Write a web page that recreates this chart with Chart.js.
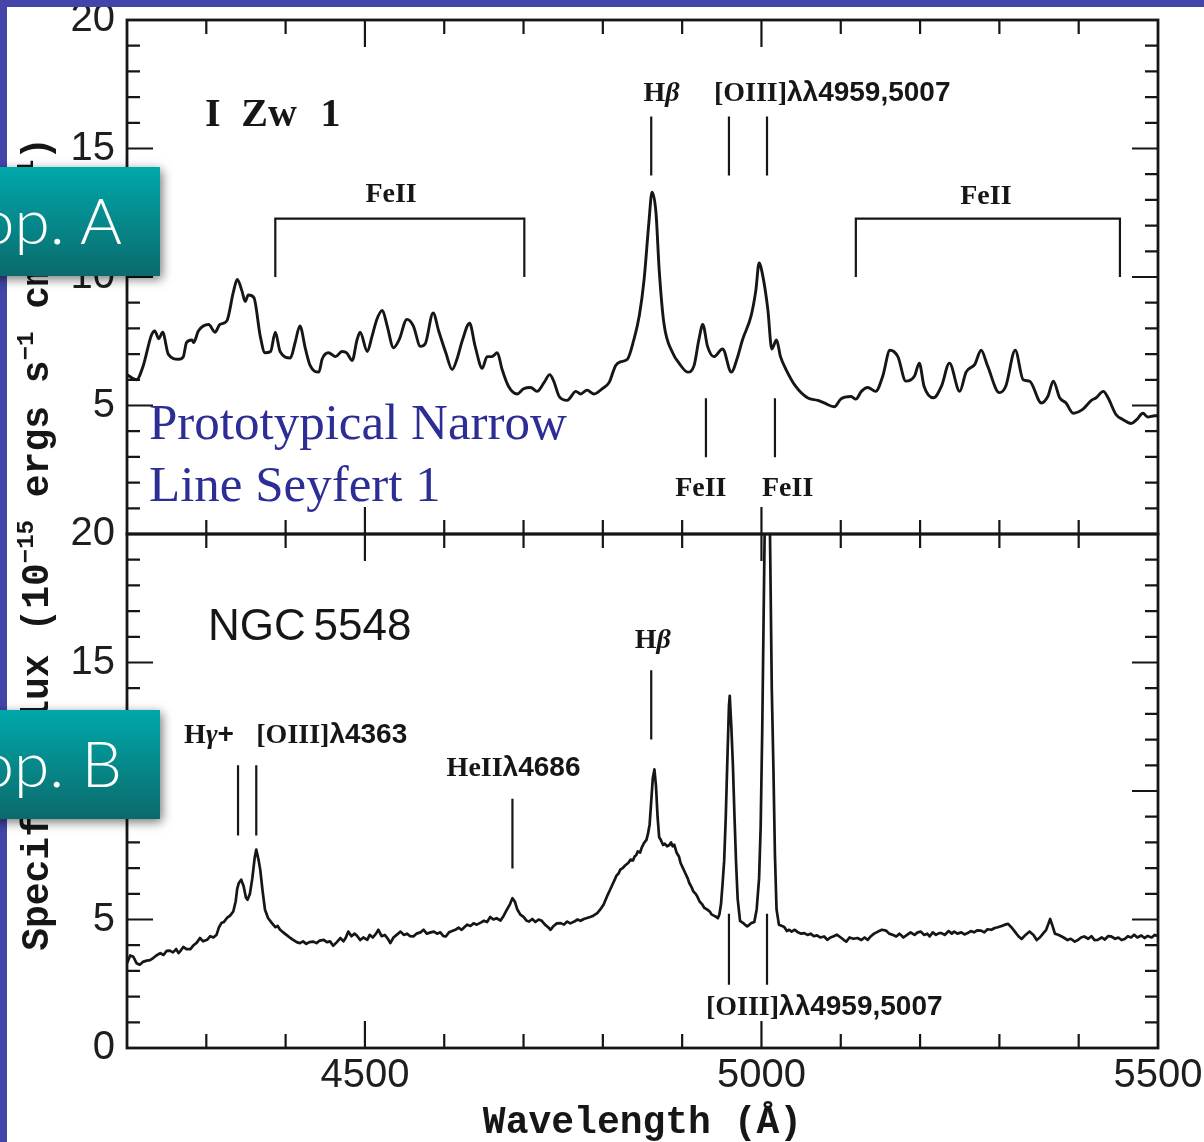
<!DOCTYPE html>
<html>
<head>
<meta charset="utf-8">
<title>I Zw 1 and NGC 5548 spectra</title>
<script src="https://cdn.jsdelivr.net/npm/chart.js@4.4.1/dist/chart.umd.min.js"></script>
<style>
  html, body { margin: 0; padding: 0; background: #fff; }
  #wrap { position: relative; width: 1204px; height: 1142px; overflow: hidden; background: #fff; }
  #spec { position: absolute; left: 0; top: 0; }
  .edge { position: absolute; background: #4346a8; }
  .pop {
    position: absolute; left: -20px; width: 180px; height: 109px;
    background: linear-gradient(#00a8ab, #0b6a6b);
    box-shadow: 2px 3px 10px rgba(0, 0, 0, 0.55);
    overflow: hidden;
  }
  .pop span {
    position: absolute; right: 38px; top: 22px;
    font-family: Lato, "Open Sans", sans-serif; font-weight: 300;
    font-size: 64px; line-height: 62px; color: #fff; white-space: nowrap;
  }
  .note {
    position: absolute; left: 149px; top: 391px;
    font-family: "Liberation Serif", serif; font-size: 51px; line-height: 62px;
    color: #2d2e95; white-space: nowrap;
  }
</style>
</head>
<body>
<div id="wrap">
  <canvas id="spec" width="1204" height="1142"></canvas>
  <div class="note">Prototypical Narrow<br>Line Seyfert 1</div>
  <div class="edge" style="left:0;top:0;width:1204px;height:7px"></div>
  <div class="edge" style="left:0;top:0;width:7px;height:1142px"></div>
  <div class="pop" style="top:167px"><span>Pop. A</span></div>
  <div class="pop" style="top:710px"><span>Pop. B</span></div>
</div>
<script>
// I Zw 1 (top panel), wavelength in Angstrom, flux in 1e-15 erg/s/cm2/A
const izw1Wave = [4200, 4212, 4220, 4231, 4235, 4240, 4245, 4252, 4265, 4271, 4275, 4282, 4284, 4290, 4303, 4311,
  4317, 4326, 4334, 4339, 4345, 4349, 4353, 4360, 4368, 4374, 4381, 4387, 4393, 4406, 4412, 4418, 4425, 4431,
  4442, 4446, 4454, 4463, 4471, 4477, 4484, 4490, 4494, 4503, 4509, 4515, 4522, 4528, 4536, 4543, 4553, 4561,
  4570, 4576, 4586, 4593, 4602, 4610, 4616, 4623, 4632, 4639, 4648, 4654, 4660, 4667, 4673, 4681, 4692, 4700,
  4709, 4717, 4726, 4733, 4738, 4745, 4755, 4766, 4772, 4780, 4789, 4799, 4808, 4816, 4822, 4831, 4839, 4846,
  4852, 4858, 4862, 4867, 4871, 4877, 4888, 4896, 4907, 4915, 4921, 4926, 4932, 4940, 4951, 4962, 4970, 4976,
  4987, 4993, 4997, 5001, 5008, 5013, 5019, 5024, 5031, 5043, 5058, 5071, 5079, 5092, 5100, 5113, 5119, 5126,
  5134, 5144, 5153, 5162, 5172, 5182, 5193, 5199, 5205, 5217, 5227, 5237, 5250, 5258, 5269, 5277, 5285, 5300,
  5308, 5320, 5330, 5338, 5353, 5361, 5368, 5376, 5384, 5393, 5405, 5416, 5422, 5431, 5437, 5447, 5456, 5466,
  5473, 5481, 5487, 5496, 5500];
const izw1Flux = [6.2, 6.0, 6.5, 7.75, 7.9, 7.6, 7.85, 7.0, 6.8, 6.9, 7.45, 7.55, 7.45, 7.9, 8.15, 7.85,
  8.15, 8.3, 9.4, 9.9, 9.45, 9.05, 9.3, 9.2, 7.7, 7.05, 7.1, 7.85, 7.1, 6.85, 7.45, 8.1, 7.2, 6.55,
  6.3, 6.8, 7.05, 6.9, 7.1, 7.05, 6.75, 7.55, 7.85, 7.1, 7.7, 8.35, 8.7, 8.1, 7.25, 7.55, 8.35, 8.1,
  7.3, 7.4, 8.6, 7.9, 7.05, 6.4, 6.8, 7.55, 8.2, 7.3, 6.45, 6.9, 6.9, 7.05, 6.4, 5.75, 5.45, 5.65,
  5.7, 5.55, 5.9, 6.2, 5.95, 5.35, 5.2, 5.55, 5.45, 5.6, 5.45, 5.65, 5.9, 6.55, 6.7, 6.8, 7.55, 8.5,
  9.9, 12.1, 13.3, 12.5, 10.3, 8.2, 7.05, 6.65, 6.3, 6.55, 7.55, 8.15, 7.3, 6.9, 7.2, 6.3, 6.9, 7.55,
  8.5, 9.5, 10.55, 10.15, 8.75, 7.2, 7.55, 6.9, 6.4, 5.75, 5.3, 5.2, 5.1, 4.95, 5.25, 5.35, 5.25, 5.55,
  5.7, 5.55, 6.15, 7.15, 6.9, 5.95, 6.15, 6.65, 5.75, 5.3, 5.75, 6.65, 5.55, 6.3, 6.6, 7.15, 6.55, 5.5,
  5.75, 7.15, 6.0, 5.95, 5.1, 5.35, 5.95, 5.3, 5.1, 4.7, 4.85, 5.2, 5.3, 5.55, 5.3, 4.65, 4.45, 4.3,
  4.45, 4.7, 4.55, 4.6, 4.6];

// NGC 5548 (bottom panel); the [OIII]5007 peak runs off the top of the panel
const ngcWave = [4200, 4204, 4208, 4212, 4216, 4220, 4225, 4229, 4233, 4237, 4242, 4246, 4250, 4254, 4258, 4262,
  4265, 4268, 4271, 4275, 4280, 4284, 4288, 4292, 4296, 4301, 4305, 4309, 4313, 4316, 4319, 4322, 4326, 4330,
  4334, 4337, 4339, 4341, 4344, 4347, 4350, 4352, 4355, 4358, 4361, 4363, 4366, 4368, 4371, 4374, 4378, 4383,
  4387, 4390, 4393, 4397, 4401, 4406, 4410, 4414, 4418, 4422, 4426, 4430, 4435, 4439, 4443, 4448, 4452, 4456,
  4460, 4464, 4469, 4473, 4476, 4479, 4483, 4487, 4490, 4494, 4498, 4503, 4506, 4510, 4514, 4517, 4521, 4525,
  4529, 4532, 4536, 4540, 4545, 4549, 4553, 4557, 4561, 4565, 4570, 4574, 4578, 4583, 4587, 4591, 4595, 4599,
  4602, 4606, 4610, 4614, 4618, 4622, 4626, 4629, 4633, 4637, 4641, 4646, 4650, 4654, 4658, 4662, 4666, 4671,
  4675, 4679, 4683, 4686, 4689, 4692, 4696, 4700, 4704, 4707, 4711, 4715, 4719, 4723, 4727, 4731, 4734, 4738,
  4742, 4747, 4751, 4755, 4759, 4764, 4768, 4772, 4776, 4780, 4784, 4788, 4793, 4797, 4801, 4806, 4809, 4812,
  4815, 4817, 4820, 4822, 4825, 4828, 4832, 4835, 4838, 4840, 4842, 4844, 4847, 4849, 4852, 4855, 4857, 4859,
  4861, 4863, 4865, 4867, 4869, 4871, 4873, 4876, 4878, 4881, 4884, 4886, 4888, 4890, 4893, 4896, 4898, 4901,
  4904, 4907, 4909, 4912, 4914, 4917, 4919, 4922, 4925, 4928, 4932, 4935, 4937, 4940, 4942, 4945, 4947, 4949,
  4951, 4953, 4955, 4957, 4959, 4960, 4962, 4964, 4966, 4968, 4970, 4973, 4977, 4980, 4982, 4985, 4987, 4991,
  4994, 4997, 4999, 5001, 5004, 5007, 5010, 5013, 5015, 5017, 5019, 5022, 5026, 5029, 5032, 5035, 5038, 5042,
  5046, 5050, 5054, 5058, 5062, 5066, 5070, 5074, 5079, 5083, 5087, 5091, 5095, 5100, 5104, 5107, 5111, 5116,
  5121, 5126, 5130, 5134, 5138, 5142, 5147, 5152, 5157, 5161, 5166, 5170, 5174, 5179, 5184, 5188, 5193, 5197,
  5201, 5205, 5209, 5212, 5216, 5220, 5224, 5227, 5231, 5236, 5240, 5243, 5247, 5252, 5256, 5260, 5264, 5268,
  5272, 5277, 5281, 5285, 5290, 5294, 5298, 5303, 5307, 5311, 5315, 5319, 5324, 5328, 5333, 5338, 5343, 5347,
  5351, 5355, 5359, 5362, 5364, 5367, 5370, 5374, 5378, 5382, 5386, 5390, 5395, 5399, 5403, 5407, 5412, 5416,
  5420, 5424, 5429, 5433, 5437, 5441, 5446, 5450, 5454, 5458, 5462, 5466, 5470, 5474, 5479, 5483, 5487, 5492,
  5496, 5500];
const ngcFlux = [3.3, 3.6, 3.55, 3.3, 3.24, 3.35, 3.4, 3.42, 3.5, 3.6, 3.69, 3.62, 3.78, 3.79, 3.72, 3.85,
  3.69, 3.8, 3.93, 3.85, 3.85, 4.0, 4.1, 4.28, 4.15, 4.21, 4.35, 4.3, 4.41, 4.7, 4.86, 4.9, 5.06, 5.15,
  5.31, 5.7, 6.2, 6.42, 6.55, 6.3, 5.85, 5.77, 6.0, 6.6, 7.4, 7.72, 7.3, 6.94, 6.1, 5.38, 5.05, 4.85,
  4.7, 4.75, 4.6, 4.5, 4.4, 4.28, 4.2, 4.12, 4.08, 4.15, 4.05, 4.12, 4.14, 4.08, 4.18, 4.21, 4.12, 4.15,
  3.98, 4.1, 4.28, 4.15, 4.3, 4.53, 4.35, 4.45, 4.37, 4.2, 4.3, 4.21, 4.4, 4.3, 4.45, 4.6, 4.35, 4.4,
  4.25, 4.08, 4.3, 4.4, 4.53, 4.4, 4.45, 4.35, 4.34, 4.45, 4.5, 4.6, 4.45, 4.5, 4.53, 4.45, 4.5, 4.35,
  4.34, 4.5, 4.55, 4.6, 4.68, 4.6, 4.72, 4.8, 4.75, 4.85, 4.8, 4.88, 4.95, 4.9, 5.1, 5.0, 5.05, 4.96,
  5.15, 5.38, 5.6, 5.83, 5.7, 5.4, 5.19, 5.1, 4.95, 4.92, 5.02, 4.9, 5.0, 4.95, 4.8, 4.7, 4.6, 4.75,
  4.85, 4.86, 4.8, 4.92, 4.85, 4.92, 5.0, 4.95, 5.02, 5.06, 5.1, 5.15, 5.25, 5.4, 5.58, 5.95, 6.15, 6.35,
  6.55, 6.7, 6.8, 6.94, 7.0, 7.1, 7.2, 7.33, 7.3, 7.45, 7.5, 7.65, 7.6, 7.8, 7.98, 8.1, 8.35, 8.7,
  9.6, 10.5, 10.84, 10.2, 9.0, 8.2, 8.1, 7.9, 7.95, 7.85, 7.9, 8.0, 7.85, 7.91, 7.6, 7.45, 7.2, 7.0,
  6.8, 6.6, 6.42, 6.25, 6.1, 6.0, 5.9, 5.7, 5.6, 5.45, 5.38, 5.3, 5.2, 5.15, 5.12, 5.05, 5.2, 5.6,
  6.4, 7.3, 9.0, 11.2, 13.3, 13.7, 12.5, 11.0, 9.0, 7.2, 5.8, 4.95, 4.86, 4.78, 4.73, 4.8, 4.86, 4.9,
  5.4, 6.6, 8.6, 12.4, 20, 30, 22, 14, 11, 7.5, 5.4, 4.8, 4.75, 4.7, 4.55, 4.6, 4.53, 4.6,
  4.5, 4.45, 4.47, 4.4, 4.45, 4.35, 4.38, 4.3, 4.34, 4.21, 4.3, 4.35, 4.41, 4.3, 4.2, 4.14, 4.3, 4.25,
  4.28, 4.2, 4.3, 4.21, 4.35, 4.45, 4.53, 4.6, 4.57, 4.45, 4.4, 4.34, 4.45, 4.3, 4.41, 4.5, 4.4, 4.5,
  4.53, 4.4, 4.45, 4.34, 4.5, 4.4, 4.47, 4.47, 4.4, 4.55, 4.45, 4.53, 4.45, 4.5, 4.42, 4.47, 4.55, 4.5,
  4.58, 4.57, 4.5, 4.62, 4.6, 4.67, 4.7, 4.75, 4.8, 4.83, 4.7, 4.55, 4.35, 4.24, 4.4, 4.53, 4.4, 4.2,
  4.3, 4.45, 4.6, 4.85, 5.02, 4.75, 4.45, 4.41, 4.35, 4.28, 4.2, 4.25, 4.14, 4.2, 4.3, 4.34, 4.25, 4.35,
  4.2, 4.21, 4.3, 4.22, 4.35, 4.34, 4.25, 4.3, 4.2, 4.24, 4.35, 4.3, 4.41, 4.3, 4.38, 4.28, 4.36, 4.3,
  4.4, 4.35];

const xTickValues = [4500, 5000, 5500];
const topTickValues = [5, 10, 15, 20];
const bottomTickValues = [0, 5, 10, 15, 20];

const ink = '#161616';
const serifB = 'bold 28px "Liberation Serif"';
const serifBI = 'italic bold 28px "Liberation Serif"';
const sansB = 'bold 28px "Liberation Sans"';
const mono = 'bold 38px "Liberation Mono"';
const monoSup = 'bold 24px "Liberation Mono"';

// line identifications: [wavelength, flux from, flux to]
const topMarks = [[4861, 13.95, 16.25], [4959, 13.95, 16.25], [5007, 13.95, 16.25], [4930, 2.99, 5.28], [5017, 2.99, 5.28]];
const topBrackets = [[4387, 4701], [5119, 5452]];
const bottomMarks = [[4340, 8.27, 11.0], [4363, 8.27, 11.0], [4686, 6.98, 9.7], [4861, 12.0, 14.7], [4959, 2.46, 5.22], [5007, 2.46, 5.22]];

function drawSegs(ctx, segs, x, y, align) {
  let w = 0;
  segs.forEach(s => { ctx.font = s[1]; w += ctx.measureText(s[0]).width; });
  let cx = align === 'center' ? x - w / 2 : (align === 'right' ? x - w : x);
  ctx.textAlign = 'left';
  ctx.textBaseline = 'alphabetic';
  segs.forEach(s => {
    ctx.font = s[1];
    ctx.fillText(s[0], cx, y + (s[2] || 0));
    cx += ctx.measureText(s[0]).width;
  });
}

const panelPlugin = {
  id: 'panels',
  beforeDatasetDraw(chart, args) {
    const ys = chart.scales[args.meta.yAxisID];
    const ca = chart.chartArea;
    chart.ctx.save();
    chart.ctx.beginPath();
    chart.ctx.rect(ca.left, ys.top, ca.right - ca.left, ys.bottom - ys.top);
    chart.ctx.clip();
  },
  afterDatasetDraw(chart) {
    chart.ctx.restore();
  },
  afterDraw(chart) {
    const ctx = chart.ctx;
    const xs = chart.scales.x;
    const yt = chart.scales.yTop;
    const yb = chart.scales.yBot;
    const L = xs.left, R = xs.right;
    ctx.save();
    ctx.strokeStyle = ink;
    ctx.fillStyle = ink;
    ctx.lineCap = 'butt';

    // frames and inward ticks on all sides of both panels
    [yt, yb].forEach(ys => {
      ctx.lineWidth = 2.8;
      ctx.strokeRect(L, ys.top, R - L, ys.bottom - ys.top);
      ctx.lineWidth = 2.2;
      ctx.beginPath();
      for (let v = 1; v < 20; v++) {
        const y = ys.getPixelForValue(v);
        const len = v % 5 === 0 ? 26 : 13;
        ctx.moveTo(L, y); ctx.lineTo(L + len, y);
        ctx.moveTo(R, y); ctx.lineTo(R - len, y);
      }
      for (let w = 4300; w < 5500; w += 100) {
        const x = xs.getPixelForValue(w);
        const len = w % 500 === 0 ? 27 : 14;
        ctx.moveTo(x, ys.top); ctx.lineTo(x, ys.top + len);
        ctx.moveTo(x, ys.bottom); ctx.lineTo(x, ys.bottom - len);
      }
      ctx.stroke();
    });

    // line marks
    ctx.lineWidth = 2.2;
    ctx.beginPath();
    topMarks.forEach(m => {
      const x = xs.getPixelForValue(m[0]);
      ctx.moveTo(x, yt.getPixelForValue(m[1])); ctx.lineTo(x, yt.getPixelForValue(m[2]));
    });
    bottomMarks.forEach(m => {
      const x = xs.getPixelForValue(m[0]);
      ctx.moveTo(x, yb.getPixelForValue(m[1])); ctx.lineTo(x, yb.getPixelForValue(m[2]));
    });
    topBrackets.forEach(b => {
      const x0 = xs.getPixelForValue(b[0]), x1 = xs.getPixelForValue(b[1]);
      const yh = yt.getPixelForValue(12.27), yl = yt.getPixelForValue(10.0);
      ctx.moveTo(x0, yl); ctx.lineTo(x0, yh); ctx.lineTo(x1, yh); ctx.lineTo(x1, yl);
    });
    ctx.stroke();

    // labels, top panel
    const px = w => xs.getPixelForValue(w);
    drawSegs(ctx, [['I', 'bold 40px "Liberation Serif"']], px(4298.5), yt.getPixelForValue(15.88), 'left');
    drawSegs(ctx, [['Zw', 'bold 40px "Liberation Serif"']], px(4344), yt.getPixelForValue(15.88), 'left');
    drawSegs(ctx, [['1', 'bold 40px "Liberation Serif"']], px(4444), yt.getPixelForValue(15.88), 'left');
    drawSegs(ctx, [['H', serifB], ['β', serifBI]], px(4874), yt.getPixelForValue(16.85), 'center');
    drawSegs(ctx, [['[OIII]', serifB], ['λλ4959,5007', sansB]], px(4940), yt.getPixelForValue(16.85), 'left');
    drawSegs(ctx, [['FeII', serifB]], px(4533), yt.getPixelForValue(12.93), 'center');
    drawSegs(ctx, [['FeII', serifB]], px(5283), yt.getPixelForValue(12.85), 'center');
    drawSegs(ctx, [['FeII', serifB]], px(4923.5), yt.getPixelForValue(1.48), 'center');
    drawSegs(ctx, [['FeII', serifB]], px(5033), yt.getPixelForValue(1.48), 'center');

    // labels, bottom panel
    drawSegs(ctx, [['NGC', '44px "Liberation Sans"']], px(4302), yb.getPixelForValue(15.87), 'left');
    drawSegs(ctx, [['5548', '44px "Liberation Sans"']], px(4558.6), yb.getPixelForValue(15.87), 'right');
    drawSegs(ctx, [['H', serifB], ['γ', serifBI], ['+', sansB]], px(4272), yb.getPixelForValue(11.85), 'left');
    drawSegs(ctx, [['[OIII]', serifB], ['λ4363', sansB]], px(4363), yb.getPixelForValue(11.85), 'left');
    drawSegs(ctx, [['HeII', serifB], ['λ4686', sansB]], px(4603), yb.getPixelForValue(10.57), 'left');
    drawSegs(ctx, [['H', serifB], ['β', serifBI]], px(4863), yb.getPixelForValue(15.56), 'center');
    drawSegs(ctx, [['[OIII]', serifB], ['λλ4959,5007', sansB]], px(4930), yb.getPixelForValue(1.29), 'left');

    // axis titles
    drawSegs(ctx, [['Wavelength (Å)', mono]], (L + R) / 2, 1133, 'center');
    ctx.translate(48, (yt.top + yb.bottom) / 2 + 10);
    ctx.rotate(-Math.PI / 2);
    drawSegs(ctx, [
      ['Specific Flux (10', mono], ['−15', monoSup, -15], [' ergs s', mono], ['−1', monoSup, -15],
      [' cm', mono], ['−2', monoSup, -15], [' Å', mono], ['−1', monoSup, -15], [')', mono]
    ], 0, 0, 'center');
    ctx.restore();
  }
};

function yScale(ticks, weight) {
  return {
    type: 'linear', position: 'left', stack: 'panels', stackWeight: 1, weight: weight,
    min: 0, max: 20,
    grid: { display: false, drawTicks: false },
    border: { display: false },
    afterBuildTicks: s => { s.ticks = ticks.map(v => ({ value: v })); },
    ticks: { padding: 12, color: '#1e1e1e', font: { family: 'Liberation Sans', size: 40 }, callback: v => String(v) },
    afterFit: s => { s.width = 127; s.paddingTop = 0; s.paddingBottom = 0; }
  };
}

new Chart(document.getElementById('spec'), {
  type: 'line',
  data: {
    datasets: [
      {
        label: 'I Zw 1', yAxisID: 'yTop',
        data: izw1Wave.map((w, i) => ({ x: w, y: izw1Flux[i] })),
        borderColor: ink, borderWidth: 2.9, pointRadius: 0,
        cubicInterpolationMode: 'monotone', borderJoinStyle: 'round'
      },
      {
        label: 'NGC 5548', yAxisID: 'yBot',
        data: ngcWave.map((w, i) => ({ x: w, y: ngcFlux[i] })),
        borderColor: ink, borderWidth: 2.7, pointRadius: 0,
        tension: 0, borderJoinStyle: 'round'
      }
    ]
  },
  options: {
    responsive: false,
    animation: false,
    events: [],
    layout: { padding: { left: 0, top: 20, right: 46, bottom: 0 } },
    plugins: { legend: { display: false }, tooltip: { enabled: false } },
    scales: {
      x: {
        type: 'linear', position: 'bottom', min: 4200, max: 5500,
        grid: { display: false, drawTicks: false },
        border: { display: false },
        afterBuildTicks: s => { s.ticks = xTickValues.map(v => ({ value: v })); },
        ticks: { padding: 4, maxRotation: 0, autoSkip: false, color: '#1e1e1e', font: { family: 'Liberation Sans', size: 40 }, callback: v => String(v) },
        afterFit: s => { s.height = 94; s.paddingLeft = 0; s.paddingRight = 0; }
      },
      yTop: yScale(topTickValues, 2),
      yBot: yScale(bottomTickValues, 1)
    }
  },
  plugins: [panelPlugin]
});
</script>
</body>
</html>
